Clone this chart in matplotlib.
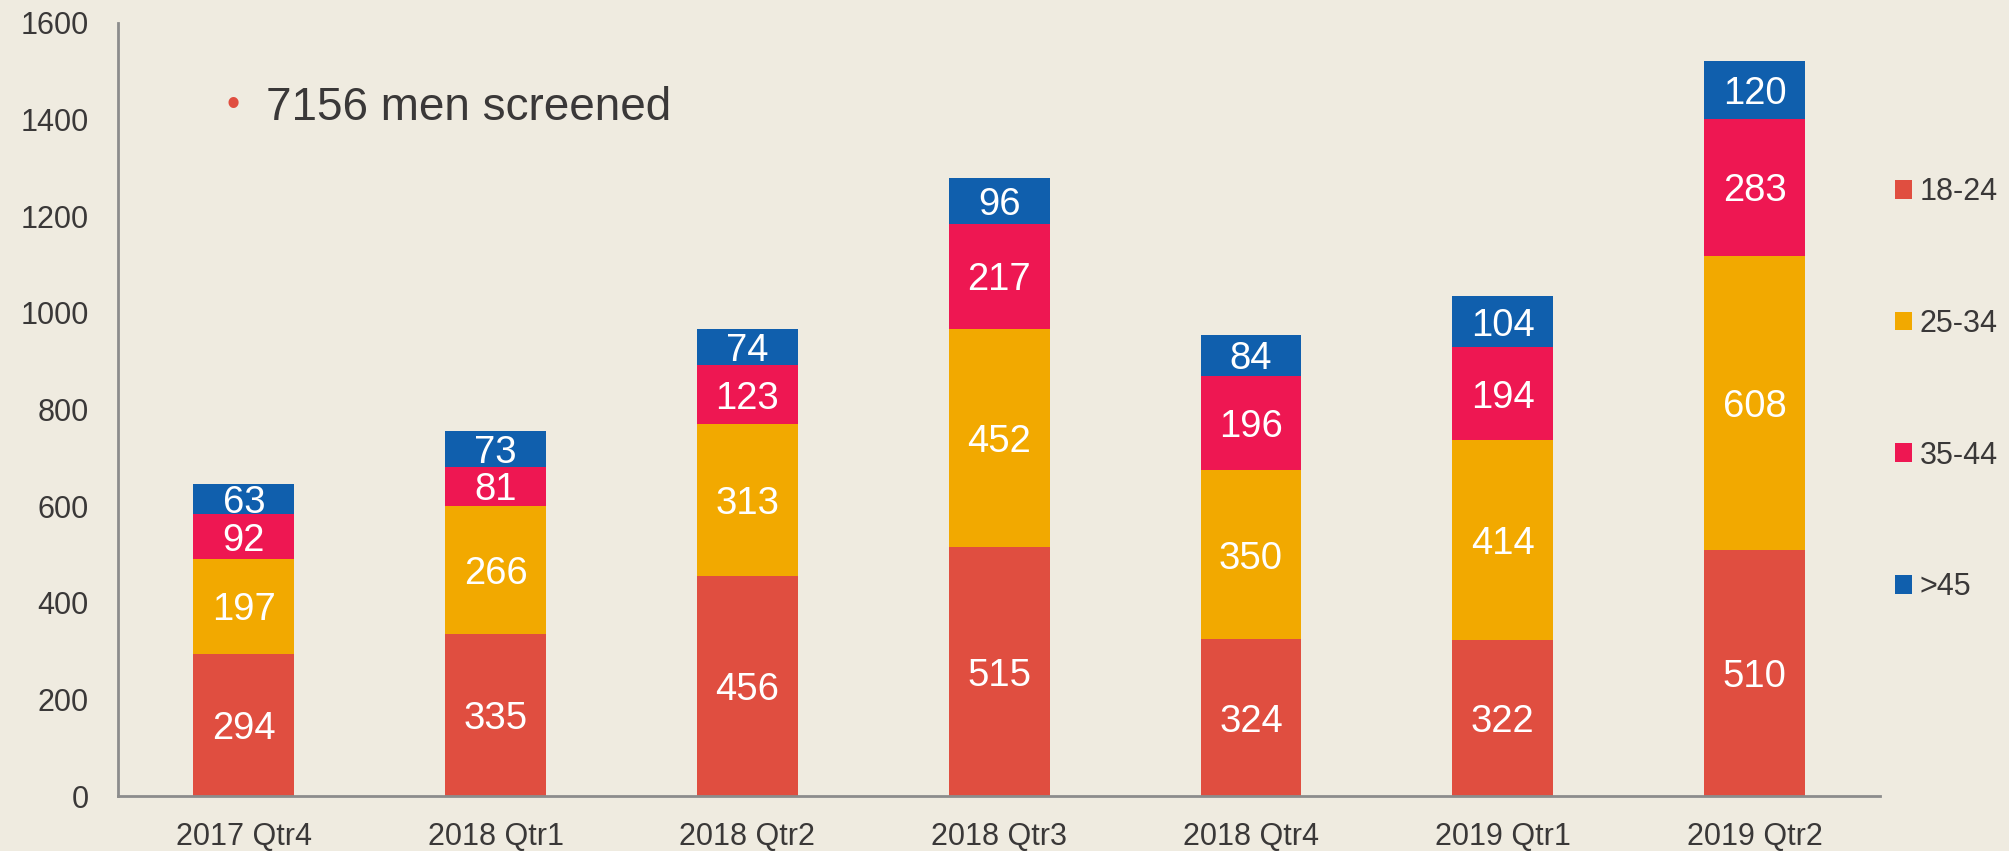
import matplotlib
matplotlib.use('Agg')
import matplotlib.pyplot as plt
import numpy as np

quarters = ['2017 Qtr4', '2018 Qtr1', '2018 Qtr2', '2018 Qtr3',
            '2018 Qtr4', '2019 Qtr1', '2019 Qtr2']
age_18_24 = [294, 335, 456, 515, 324, 322, 510]
age_25_34 = [197, 266, 313, 452, 350, 414, 608]
age_35_44 = [92, 81, 123, 217, 196, 194, 283]
age_45_up = [63, 73, 74, 96, 84, 104, 120]
group_names = ['18-24', '25-34', '35-44', '>45']

colors = ['#E04E40', '#F2A900', '#EE1752', '#105FAD']
bg = '#EFEBE0'
text_col = '#3A3838'

plt.rcParams['font.family'] = ['Liberation Sans', 'DejaVu Sans']

fig = plt.figure(figsize=(20.09, 8.51), dpi=100, facecolor=bg)
ax = fig.add_axes([0.0587, 0.0646, 0.8773, 0.9084], facecolor=bg)

x = np.arange(len(quarters))
bottom = np.zeros(len(quarters))
handles = []
for vals, name, col in zip([age_18_24, age_25_34, age_35_44, age_45_up], group_names, colors):
    bars = ax.bar(x, vals, width=0.4, bottom=bottom, color=col, label=name)
    labels = ax.bar_label(bars, labels=[str(v) for v in vals], label_type='center',
                          color='white', fontsize=27.5)
    # centre the digits themselves, not the full text box
    for t in labels:
        t.set_verticalalignment('center_baseline')
    handles.append(bars)
    bottom += np.array(vals)

ax.set_xlim(-0.5, len(quarters) - 0.5)
ax.set_ylim(0, 1600)
ax.set_yticks(range(0, 1601, 200))
ax.set_xticks(x)
ax.set_xticklabels(quarters)
ax.tick_params(axis='both', length=0, labelsize=22, colors=text_col)
ax.tick_params(axis='y', pad=21)
ax.tick_params(axis='x', pad=19)

for side in ['top', 'right']:
    ax.spines[side].set_visible(False)
for side in ['left', 'bottom']:
    ax.spines[side].set_color('#8C8C8C')
    ax.spines[side].set_linewidth(2)

# summary note
fig.text(0.1158, 0.876, '\u2022', color='#E04E40', fontsize=27, va='center', ha='center')
fig.text(0.1325, 0.873, '7156 men screened', color=text_col, fontsize=33, va='center')

leg = fig.legend(handles=handles, labels=group_names, loc='upper left',
                 bbox_to_anchor=(0.9296, 0.8243), frameon=False, fontsize=22,
                 handlelength=0.56, handleheight=0.56, handletextpad=0.25,
                 labelspacing=3.33, labelcolor=text_col)

fig.savefig('out.png', dpi=100, facecolor=bg)
